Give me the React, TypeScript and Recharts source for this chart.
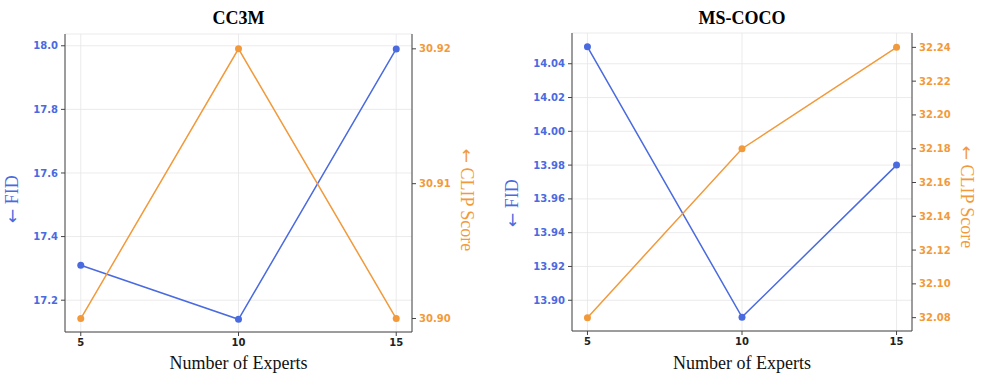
import { LineChart, Line, XAxis, YAxis, CartesianGrid, ReferenceArea, Label } from 'recharts';

// values
const experts = [5, 10, 15];
const cc3mFid = [17.31, 17.14, 17.99];
const cc3mClip = [30.9, 30.92, 30.9];
const cocoFid = [14.05, 13.89, 13.98];
const cocoClip = [32.08, 32.18, 32.24];

const expertTicks = [5, 10, 15];
const cc3mFidTicks = [17.2, 17.4, 17.6, 17.8, 18.0];
const cc3mClipTicks = [30.9, 30.91, 30.92];
const cocoFidTicks = [13.9, 13.92, 13.94, 13.96, 13.98, 14.0, 14.02, 14.04];
const cocoClipTicks = [32.08, 32.1, 32.12, 32.14, 32.16, 32.18, 32.2, 32.22, 32.24];

const BLUE = '#4a6ae0';
const ORANGE = '#f29a3b';
const FRAME = '#444';
const SERIF = '"Liberation Serif", "DejaVu Serif", serif';
const SANS = '"DejaVu Sans", sans-serif';

const rows = (fid: number[], clip: number[]) =>
  experts.map((e, i) => ({ experts: e, fid: fid[i], clip: clip[i] }));

// axis titles; the arrow glyph comes from DejaVu Sans so it is long like the original
const axisTitle = (text: string, x: number, y: number, angle: number, color: string, arrow = false) => () => (
  <text
    x={x}
    y={y}
    transform={`rotate(${angle} ${x} ${y})`}
    textAnchor="middle"
    dominantBaseline="central"
    fill={color}
    fontFamily={SERIF}
    fontSize={18}
  >
    {arrow && <tspan fontFamily={SANS} fontSize={17}>←</tspan>}
    {arrow ? ' ' + text : text}
  </text>
);

type PanelProps = {
  title: string;
  left: number;
  width: number;
  leftW: number;
  rightW: number;
  top: number;
  xH: number;
  fid: number[];
  clip: number[];
  fidDomain: [number, number];
  clipDomain: [number, number];
  fidTicks: number[];
  clipTicks: number[];
  digits: number;
  fidLabel: [number, number];
  clipLabel: [number, number];
};

function Panel(p: PanelProps) {
  const data = rows(p.fid, p.clip);
  const plotMid = (p.leftW + (p.width - p.rightW)) / 2;
  const tickStyle = { fontFamily: SANS, fontSize: 10, fontWeight: 700 };
  return (
    <div style={{ position: 'absolute', left: p.left, top: 0, width: p.width, height: 377 }}>
      <div
        style={{
          position: 'absolute',
          left: plotMid - 100,
          width: 200,
          top: 8,
          textAlign: 'center',
          fontFamily: SERIF,
          fontWeight: 700,
          fontSize: 18,
          lineHeight: '20px',
        }}
      >
        {p.title}
      </div>
      <LineChart width={p.width} height={377} data={data} margin={{ top: p.top, right: 0, bottom: 0, left: 0 }}>
        <CartesianGrid yAxisId="left" stroke="#e6e6e6" strokeWidth={0.8} />
        <XAxis
          dataKey="experts"
          type="number"
          domain={[4.5, 15.5]}
          ticks={expertTicks}
          height={p.xH}
          tickSize={4}
          tickMargin={3}
          stroke={FRAME}
          tick={{ ...tickStyle, fill: '#222' }}
          allowDataOverflow
        >
          <Label content={axisTitle('Number of Experts', plotMid, 363, 0, '#111')} />
        </XAxis>
        <YAxis
          yAxisId="left"
          width={p.leftW}
          domain={p.fidDomain}
          ticks={p.fidTicks}
          tickFormatter={(v: number) => v.toFixed(p.digits)}
          tickSize={4}
          tickMargin={3}
          stroke={FRAME}
          tick={{ ...tickStyle, fill: BLUE }}
          allowDataOverflow
        >
          <Label content={axisTitle('FID', p.fidLabel[0], p.fidLabel[1], -90, BLUE, true)} />
        </YAxis>
        <YAxis
          yAxisId="right"
          orientation="right"
          width={p.rightW}
          domain={p.clipDomain}
          ticks={p.clipTicks}
          tickFormatter={(v: number) => v.toFixed(2)}
          tickSize={4}
          tickMargin={3}
          stroke={FRAME}
          tick={{ ...tickStyle, fill: ORANGE }}
          allowDataOverflow
        >
          <Label content={axisTitle('CLIP Score', p.clipLabel[0], p.clipLabel[1], 90, ORANGE, true)} />
        </YAxis>
        <ReferenceArea yAxisId="left" fill="none" stroke={FRAME} strokeWidth={1.3} />
        <Line
          yAxisId="left"
          dataKey="fid"
          type="linear"
          stroke={BLUE}
          strokeWidth={1.5}
          dot={{ r: 3.5, fill: BLUE, stroke: 'none' }}
          isAnimationActive={false}
        />
        <Line
          yAxisId="right"
          dataKey="clip"
          type="linear"
          stroke={ORANGE}
          strokeWidth={1.5}
          dot={{ r: 3.5, fill: ORANGE, stroke: 'none' }}
          isAnimationActive={false}
        />
      </LineChart>
    </div>
  );
}

export default function App() {
  return (
    <div style={{ position: 'absolute', left: 0, top: 0, width: 982, height: 377, background: '#fff' }}>
      <Panel
        title="CC3M"
        left={0}
        width={490}
        leftW={65}
        rightW={78}
        top={34}
        xH={45}
        fid={cc3mFid}
        clip={cc3mClip}
        fidDomain={[17.1, 18.037]}
        clipDomain={[30.899, 30.9211]}
        fidTicks={cc3mFidTicks}
        clipTicks={cc3mClipTicks}
        digits={1}
        fidLabel={[12, 199]}
        clipLabel={[467, 200]}
      />
      <Panel
        title="MS-COCO"
        left={490}
        width={492}
        leftW={82}
        rightW={70}
        top={33}
        xH={46}
        fid={cocoFid}
        clip={cocoClip}
        fidDomain={[13.8818, 14.0582]}
        clipDomain={[32.0721, 32.2485]}
        fidTicks={cocoFidTicks}
        clipTicks={cocoClipTicks}
        digits={2}
        fidLabel={[22, 203]}
        clipLabel={[477, 197]}
      />
    </div>
  );
}
